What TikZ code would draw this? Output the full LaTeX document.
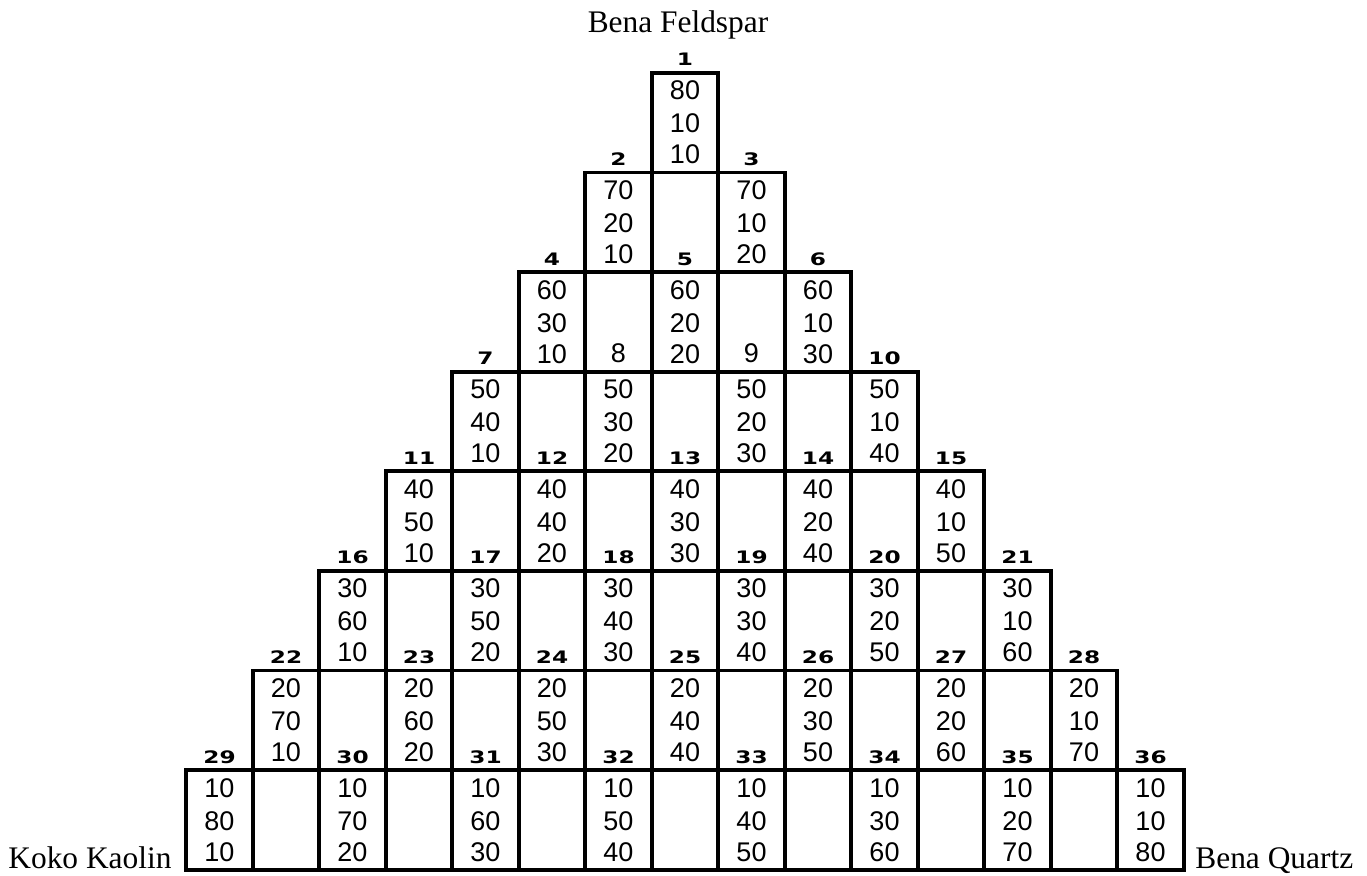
\documentclass[tikz,border=0pt]{standalone}
\usepackage{fontspec}
\setmainfont{Liberation Serif}
\newfontfamily\datafont{Liberation Sans}
\newfontfamily\lblfont{DejaVu Sans}[FakeStretch=1.35]
\begin{document}
\begin{tikzpicture}[x=0.5pt,y=-0.5pt,
  grid/.style={line width=1.9pt, line cap=rect},
  val/.style={font=\datafont\fontsize{13.5}{13.5}\selectfont, inner sep=0, anchor=base},
  lbl/.style={font=\lblfont\bfseries\fontsize{8.6}{8.6}\selectfont, inner sep=0, anchor=base},
  capt/.style={font=\fontsize{15.7}{16}\selectfont, inner sep=0, anchor=base west}]
\useasboundingbox (0,0) rectangle (1367,876);
\def\cw{66.5}\def\rh{99.6}\def\cx{685}\def\ty{73}
\foreach \r in {1,...,8} {
  \pgfmathsetmacro\L{\cx-(2*\r-1)*\cw/2}
  \pgfmathsetmacro\T{\ty+(\r-1)*\rh}
  \pgfmathsetmacro\B{\T+\rh}
  \pgfmathtruncatemacro\nc{2*\r-1}
  \pgfmathsetmacro\R{\L+\nc*\cw}
  \draw[grid] (\L,\T) -- (\R,\T);
  \draw[grid] (\L,\B) -- (\R,\B);
  \foreach \k in {0,...,\nc} {
    \draw[grid] (\L+\k*\cw,\T) -- (\L+\k*\cw,\B);
  }
  \pgfmathtruncatemacro\last{\r-1}
  \foreach \j in {0,...,\last} {
    \pgfmathtruncatemacro\n{\r*(\r-1)/2+\j+1}
    \pgfmathsetmacro\X{\L+(2*\j+0.5)*\cw}
    \pgfmathtruncatemacro\va{90-10*\r}
    \pgfmathtruncatemacro\vb{10*(\r-\j)}
    \pgfmathtruncatemacro\vc{10*(\j+1)}
    \node[val] (a\n) at (\X,\T+27) {\va};
    \node[val] (b\n) at (\X,\T+60) {\vb};
    \node[val] (c\n) at (\X,\T+91) {\vc};
    \ifnum\n=8
      \node[val] (l\n) at (\X,\T-9) {\n};
    \else\ifnum\n=9
      \node[val] (l\n) at (\X,\T-9) {\n};
    \else
      \node[lbl] (l\n) at (\X,\T-7) {\n};
    \fi\fi
  }
}
\node[capt, anchor=base] (feld) at (678,33) {Bena Feldspar};
\node[capt] (kaol) at (8,869) {Koko Kaolin};
\node[capt] (quar) at (1195,869) {Bena Quartz};
\end{tikzpicture}
\end{document}
